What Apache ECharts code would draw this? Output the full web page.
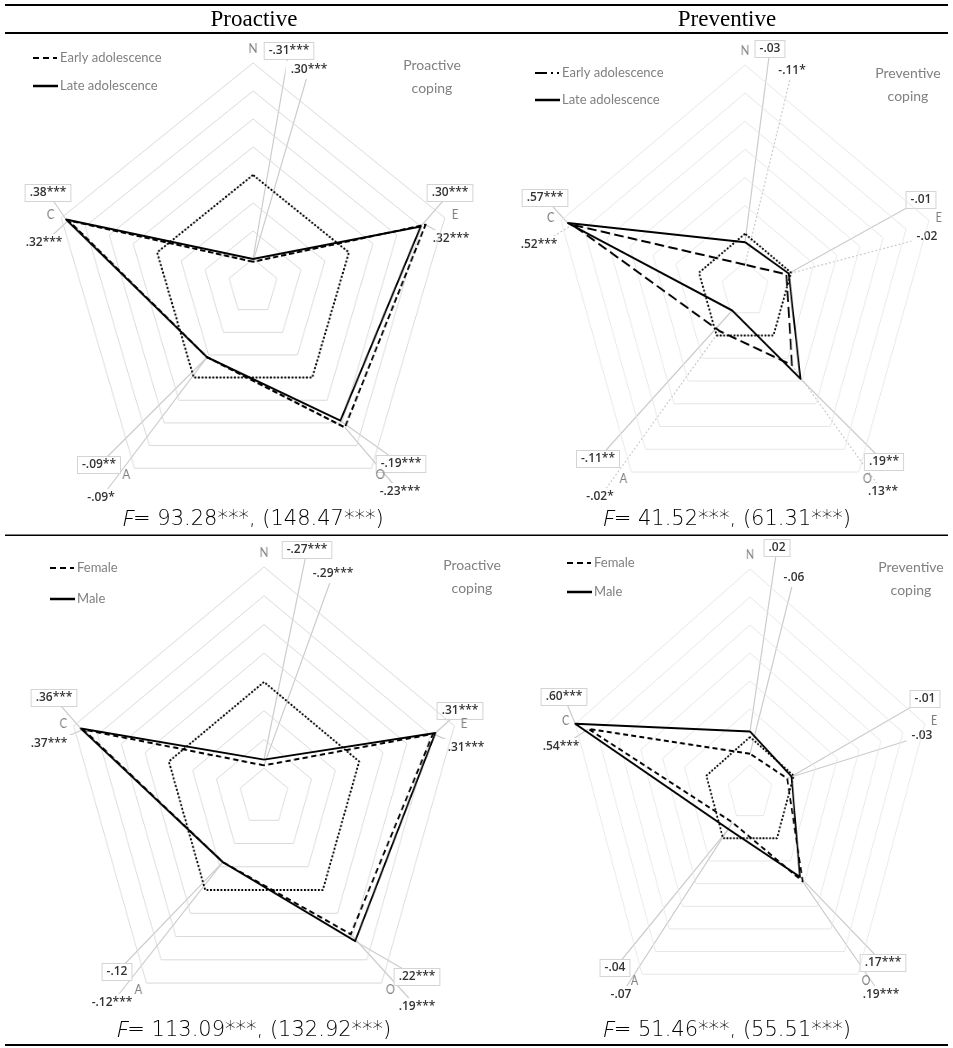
<!DOCTYPE html>
<html>
<head>
<meta charset="utf-8">
<title>Proactive / Preventive coping radar</title>
<script src="https://cdn.jsdelivr.net/npm/echarts/dist/echarts.min.js"></script>
<style>
  body { margin: 0; background: #fff; }
  #page { position: relative; width: 953px; height: 1048px; overflow: hidden; }
</style>
</head>
<body>
<div id="page">
  <div id="overlay" style="position:absolute;left:0;top:0;width:953px;height:1048px"></div>
</div>
<script>
// axes in radar order: N on top, then anticlockwise
var axisNames = ['N', 'C', 'A', 'O', 'E'];
var proRange = [-0.4, 0.4];
var preRange = [-0.2, 0.6];
var zeroLine = [0, 0, 0, 0, 0];

// plotted values, order N, C, A, O, E
var ageProEarly = [-0.31, 0.37, -0.09, 0.22, 0.32];
var ageProLate = [-0.30, 0.38, -0.09, 0.19, 0.30];
var agePreEarly = [-0.11, 0.55, -0.02, 0.13, -0.02];
var agePreLate = [-0.03, 0.57, -0.11, 0.19, -0.01];
var sexProFemale = [-0.29, 0.36, -0.12, 0.19, 0.31];
var sexProMale = [-0.27, 0.37, -0.12, 0.22, 0.32];
var sexPreFemale = [-0.06, 0.54, -0.07, 0.19, -0.03];
var sexPreMale = [0.02, 0.60, -0.04, 0.17, -0.01];

// correlation labels [upper, lower] per axis
var ageProLabels = [['-.31***', '.30***'], ['.38***', '.32***'], ['-.09**', '-.09*'], ['-.19***', '-.23***'], ['.30***', '.32***']];
var agePreLabels = [['-.03', '-.11*'], ['.57***', '.52***'], ['-.11**', '-.02*'], ['.19**', '.13**'], ['-.01', '-.02']];
var sexProLabels = [['-.27***', '-.29***'], ['.36***', '.37***'], ['-.12', '-.12***'], ['.22***', '.19***'], ['.31***', '.31***']];
var sexPreLabels = [['.02', '-.06'], ['.60***', '.54***'], ['-.04', '-.07'], ['.17***', '.19***'], ['-.01', '-.03']];

var columnTitles = ['Proactive', 'Preventive'];
var fValues = [['93.28***', '148.47***'], ['41.52***', '61.31***'], ['113.09***', '132.92***'], ['51.46***', '55.51***']];
var ageGroups = ['Early adolescence', 'Late adolescence'];
var sexGroups = ['Female', 'Male'];
var copingNames = [['Proactive', 'coping'], ['Preventive', 'coping']];

// layout of the four panels
var panels = [
  { cx: 253, cy: 287, R: 224, sx: 0.90, range: proRange, a: ageProEarly, b: ageProLate, labels: ageProLabels,
    groups: ageGroups, coping: copingNames[0], dash: [6, 3], legendDash: [6, 4], grid: '#d9d9d9', dotLeader: false,
    legend: [33, 58, 86], copingPos: [432, 65], fPos: [253, 520],
    labelPos: [[[289, 51], [309, 70]], [[48, 193], [44, 243]], [[99, 465], [101, 498]], [[401, 464], [400, 492]], [[450, 193], [451, 239]]] },
  { cx: 745, cy: 290, R: 225, sx: 0.86, range: preRange, a: agePreEarly, b: agePreLate, labels: agePreLabels,
    groups: ageGroups, coping: copingNames[1], dash: [11, 5], legendDash: [12, 4, 2, 4], grid: '#e6e6e6', dotLeader: true,
    legend: [535, 73, 100], copingPos: [908, 73], fPos: [727, 520],
    labelPos: [[[770, 49], [792, 71]], [[545, 198], [539, 245]], [[598, 459], [600, 497]], [[884, 462], [883, 492]], [[921, 200], [927, 237]]] },
  { cx: 264, cy: 797, R: 230, sx: 0.87, range: proRange, a: sexProFemale, b: sexProMale, labels: sexProLabels,
    groups: sexGroups, coping: copingNames[0], dash: [6, 4], legendDash: [6, 4], grid: '#d9d9d9', dotLeader: false,
    legend: [50, 568, 599], copingPos: [472, 565], fPos: [254, 1031],
    labelPos: [[[307, 550], [333, 574]], [[54, 698], [49, 744]], [[117, 972], [112, 1003]], [[417, 977], [417, 1007]], [[460, 711], [466, 748]]] },
  { cx: 750, cy: 793, R: 224, sx: 0.82, range: preRange, a: sexPreFemale, b: sexPreMale, labels: sexPreLabels,
    groups: sexGroups, coping: copingNames[1], dash: [6, 4], legendDash: [6, 4], grid: '#e6e6e6', dotLeader: false,
    legend: [567, 563, 592], copingPos: [911, 567], fPos: [727, 1031],
    labelPos: [[[777, 548], [794, 578]], [[564, 697], [561, 747]], [[615, 968], [621, 995]], [[883, 963], [881, 995]], [[925, 699], [922, 736]]] }
];

var page = document.getElementById('page');
var overlay = echarts.init(document.getElementById('overlay'));
var lines = [];
var texts = [];

// pixel position of a value on axis i of panel p (same geometry as the radar below)
function pointAt(p, v, i) {
  var r = (v - p.range[0]) / (p.range[1] - p.range[0]) * p.R;
  var ang = Math.PI / 2 + i * 2 * Math.PI / axisNames.length;
  return [p.cx + r * Math.cos(ang) * p.sx, p.cy - r * Math.sin(ang)];
}

// table rules
[[4, 2], [32, 2], [534.5, 1.5], [1044, 2]].forEach(function (r) {
  lines.push({ type: 'rect', shape: { x: 5, y: r[0], width: 943, height: r[1] }, style: { fill: '#000' } });
});
texts.push({ type: 'text', x: 254, y: 20, style: { text: columnTitles[0], align: 'center', verticalAlign: 'middle',
  fontFamily: 'Liberation Serif', fontSize: 23, fill: '#000' } });
texts.push({ type: 'text', x: 727, y: 20, style: { text: columnTitles[1], align: 'center', verticalAlign: 'middle',
  fontFamily: 'Liberation Serif', fontSize: 23, fill: '#000' } });

panels.forEach(function (p, k) {
  var size = 2 * p.R + 80;
  var div = document.createElement('div');
  div.style.cssText = 'position:absolute;left:' + (p.cx - size / 2) + 'px;top:' + (p.cy - size / 2) + 'px;width:' +
    size + 'px;height:' + size + 'px;transform:scaleX(' + p.sx + ');transform-origin:50% 50%';
  page.appendChild(div);
  var chart = echarts.init(div);
  chart.setOption({
    animation: false,
    radar: {
      center: ['50%', '50%'],
      radius: p.R,
      startAngle: 90,
      splitNumber: 8,
      indicator: axisNames.map(function (n) { return { name: n, min: p.range[0], max: p.range[1] }; }),
      axisName: { color: '#7f7f7f', fontSize: 13, fontFamily: 'Lato' },
      nameGap: 8,
      splitLine: { lineStyle: { color: p.grid, width: 1 } },
      splitArea: { show: false },
      axisLine: { show: false },
      axisTick: { show: false },
      axisLabel: { show: false }
    },
    series: [{
      type: 'radar',
      symbol: 'none',
      silent: true,
      data: [
        { value: zeroLine, lineStyle: { color: '#000', width: 2, type: [2, 2] } },
        { value: p.a, lineStyle: { color: '#000', width: 2, type: p.dash } },
        { value: p.b, lineStyle: { color: '#000', width: 2, type: 'solid' } }
      ]
    }]
  });

  // leader lines and correlation labels
  axisNames.forEach(function (n, i) {
    [p.b, p.a].forEach(function (vals, j) {
      var pt = pointAt(p, vals[i], i);
      var pos = p.labelPos[i][j];
      lines.push({ type: 'line', shape: { x1: pt[0], y1: pt[1], x2: pos[0], y2: pos[1] },
        style: { stroke: '#cccccc', lineWidth: 1.2, lineDash: (j === 1 && p.dotLeader) ? [2, 2] : null } });
      texts.push({ type: 'text', x: pos[0], y: pos[1], style: {
        text: p.labels[i][j], align: 'center', verticalAlign: 'middle', fontFamily: 'Open Sans', fontSize: 12,
        fontWeight: 600, fill: '#333333', backgroundColor: '#fff',
        borderColor: j === 0 ? '#d4d4d4' : '#fff', borderWidth: 1, padding: [2, 4] } });
    });
  });

  // legend
  var lx = p.legend[0];
  lines.push({ type: 'line', shape: { x1: lx, y1: p.legend[1], x2: lx + 24, y2: p.legend[1] },
    style: { stroke: '#000', lineWidth: 2, lineDash: p.legendDash } });
  lines.push({ type: 'line', shape: { x1: lx, y1: p.legend[2], x2: lx + 25, y2: p.legend[2] },
    style: { stroke: '#000', lineWidth: 2.5 } });
  p.groups.forEach(function (name, j) {
    texts.push({ type: 'text', x: lx + 27, y: p.legend[j + 1], style: { text: name, align: 'left', verticalAlign: 'middle',
      fontFamily: 'Lato', fontSize: 13, fill: '#808080' } });
  });

  // coping name
  p.coping.forEach(function (t, j) {
    texts.push({ type: 'text', x: p.copingPos[0], y: p.copingPos[1] + 23 * j, style: { text: t, align: 'center',
      verticalAlign: 'middle', fontFamily: 'Lato', fontSize: 14, fill: '#808080' } });
  });

  // F caption
  texts.push({ type: 'text', x: p.fPos[0], y: p.fPos[1], style: {
    text: '{i|F}= ' + fValues[k][0] + ', (' + fValues[k][1] + ')', align: 'center', verticalAlign: 'middle',
    fontFamily: 'DejaVu Sans', fontWeight: 200, fontSize: 21, fill: '#000',
    rich: { i: { fontStyle: 'italic', fontFamily: 'Open Sans', fontWeight: 300, fontSize: 22, fill: '#000' } } } });
});

overlay.setOption({ animation: false, graphic: { elements: lines.concat(texts) } });
</script>
</body>
</html>
